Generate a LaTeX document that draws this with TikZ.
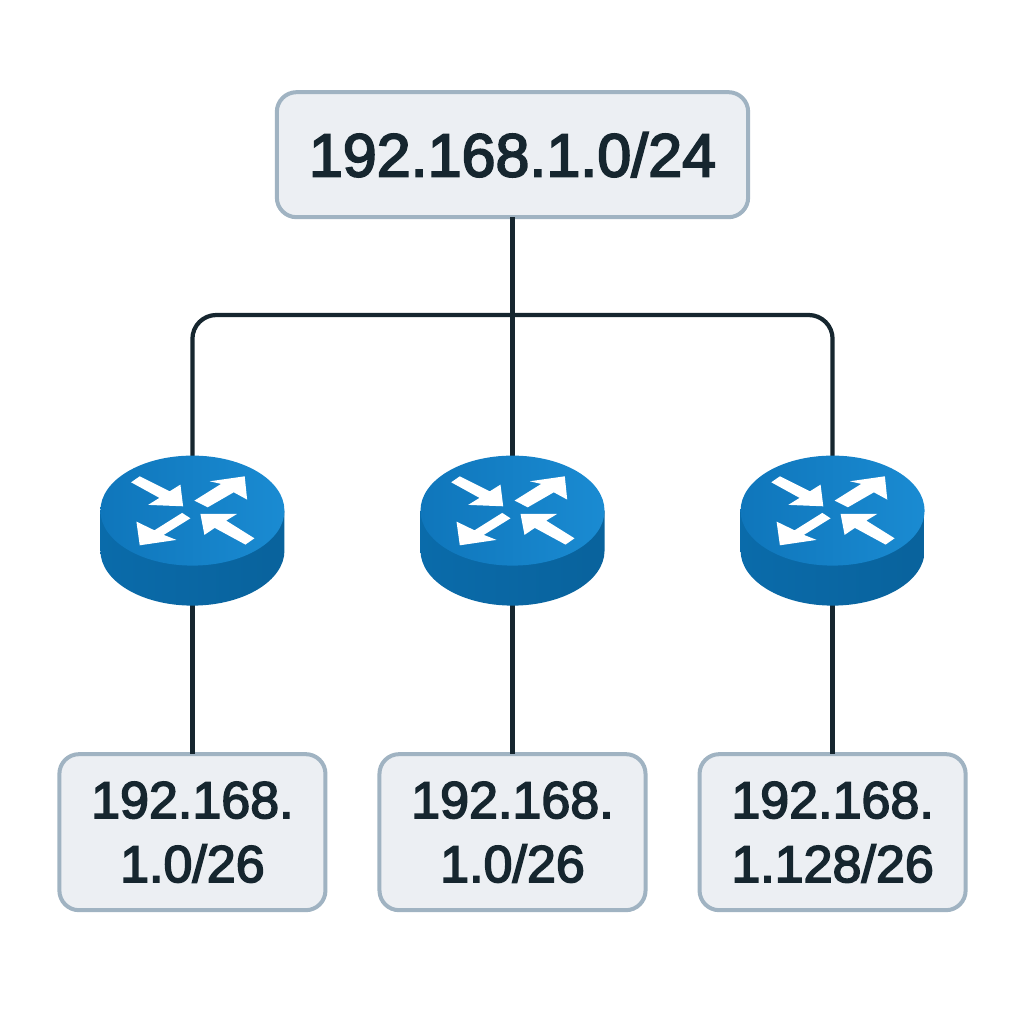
\documentclass[tikz,border=0pt]{standalone}
\usepackage{fontspec}
\newfontfamily\netfont[FakeBold=3]{Liberation Sans}
\usepackage{xcolor}
\usetikzlibrary{positioning}
\definecolor{netfill}{HTML}{ECEFF3}
\definecolor{netedge}{HTML}{A0B3C2}
\definecolor{netink}{HTML}{16262F}
\definecolor{routerside}{HTML}{0A6BAA}
\definecolor{routertopl}{HTML}{0F76BB}
\definecolor{routertopr}{HTML}{1A8BD2}
\tikzset{
  routerpic/.pic={
    \shade[left color=routerside, right color=routerside!92!black]
      (-92,-20) -- (-92,20) arc[start angle=180, end angle=360, x radius=2.3cm, y radius=1.375cm] -- (92,-20) -- cycle;
    \shade[left color=routertopl, right color=routertopr] (0,-20) ellipse (92 and 55);
    \fill[white] (-52.7,-54.3) -- (-22.7,-39.3) -- (-12,-46) -- (-9.3,-24.3) -- (-44.3,-25.7) -- (-33,-32.7) -- (-61.3,-48.3) -- cycle;
    \fill[white] (2,-30) -- (28.7,-46.7) -- (17.3,-49.3) -- (52.3,-54.3) -- (54.7,-31) -- (41.3,-38.3) -- (15.3,-23.3) -- cycle;
    \fill[white] (-10.3,-17.7) -- (-38,-0.3) -- (-56,-9) -- (-52.7,14.7) -- (-16,9.3) -- (-28.7,4.3) -- (-2,-12.3) -- cycle;
    \fill[white] (8,-16.7) -- (44.7,-16.7) -- (33.7,-10) -- (62,7.7) -- (53,14) -- (22.3,-2.7) -- (12,4.3) -- cycle;
  }
}
\begin{document}
\begin{tikzpicture}[
      x=0.025cm, y=-0.025cm,
      netbox/.style={draw=netedge, fill=netfill, line width=2.85pt, rounded corners=14pt, align=center,
                     text=netink, outer sep=0pt, inner sep=0pt},
      topbox/.style={netbox, minimum width=11.78cm, minimum height=3.125cm, font=\netfont\fontsize{43.4}{46}\selectfont},
      leafbox/.style={netbox, minimum width=6.65cm, minimum height=3.9cm, font=\netfont\fontsize{37}{45.5}\selectfont},
      router/.style={minimum width=4.6cm, minimum height=3.725cm, outer sep=0pt, inner sep=0pt},
      wire/.style={draw=netink, line width=3pt},
      node distance=3.725cm and 3.4cm
    ]
    \useasboundingbox (0,0) rectangle (1024,1024);
    \node[topbox] (top) at (512.5,154.7) {192.168.1.0/24};
    \node[router, below=5.97cm of top.south] (r2) {};
    \node[router, left=of r2]  (r1) {};
    \node[router, right=of r2] (r3) {};
    \node[leafbox, below=of r1] (leafa) {192.168.\\1.0/26};
    \node[leafbox, below=of r2] (leafb) {192.168.\\1.0/26};
    \node[leafbox, below=of r3] (leafc) {192.168.\\1.128/26};
    \coordinate (bus) at (top.south |- 0,315);
    \draw[wire] (top.south) -- (r2.north);
    \draw[wire, rounded corners=17pt] (r1.north) |- (bus) -| (r3.north);
    \foreach \r/\l in {r1/leafa, r2/leafb, r3/leafc} {
      \draw[wire] (\r.south) -- (\l.north);
      \pic at (\r) {routerpic};
    }
  \end{tikzpicture}
\end{document}
